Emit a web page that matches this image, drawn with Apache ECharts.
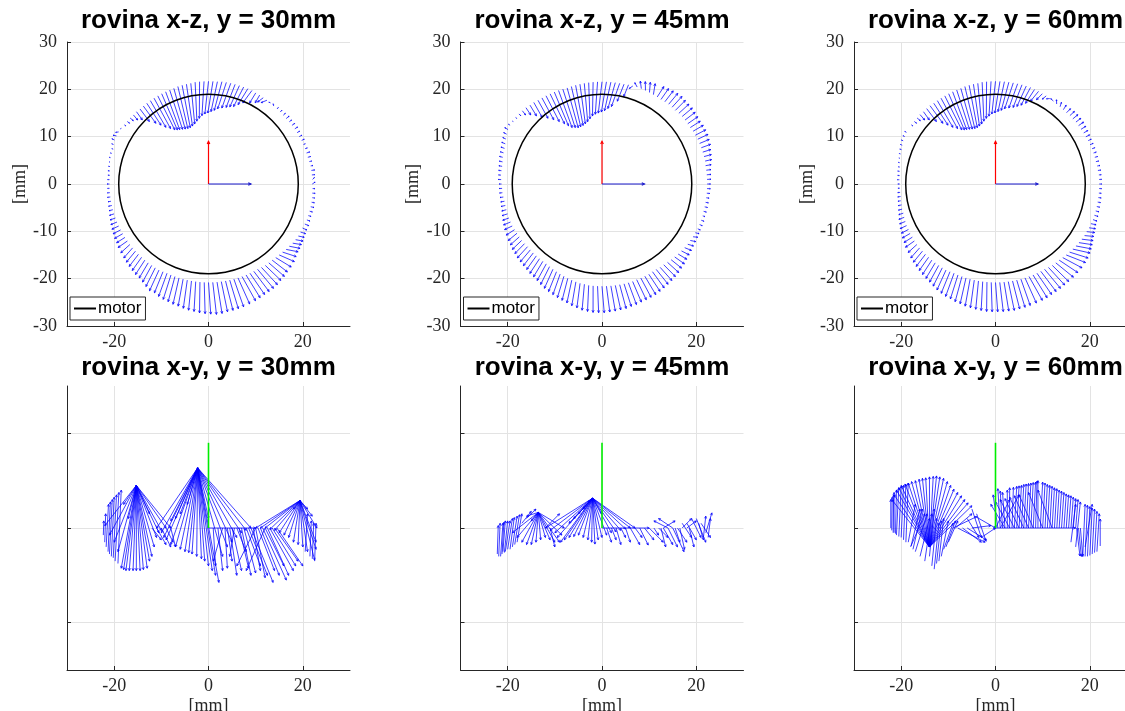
<!DOCTYPE html>
<html><head><meta charset="utf-8">
<script src="https://cdn.jsdelivr.net/npm/echarts@6/dist/echarts.min.js"></script>
<style>html,body{margin:0;padding:0;background:#fff}#c{width:1125px;height:711px}</style>
</head><body><div id="c"></div>
<script>
// ---------- titles / ticks ----------
const titlesTop = ['rovina x-z, y = 30mm', 'rovina x-z, y = 45mm', 'rovina x-z, y = 60mm'];
const titlesBottom = ['rovina x-y, y = 30mm', 'rovina x-y, y = 45mm', 'rovina x-y, y = 60mm'];
const xTickValues = [-20, 0, 20];
const yTickValuesBottom = [-20, 0, 20];
const axisLabelName = '[mm]';
const legendName = 'motor';
const motorRadius = 19;
const refAxisLen = 9;      // red / blue reference arrows (x-z)
const greenAxisLen = 18;   // green reference line (x-y)

// ---------- x-z quiver: tails at angle/tailR, tips at tipA/tipR (deg, mm) ----------
const angles = [0,2.5,5,7.5,10,12.5,15,17.5,20,22.5,25,27.5,
  30,32.5,35,37.5,40,42.5,45,47.5,50,52.5,55,57.5,
  60,62.5,65,67.5,70,72.5,75,77.5,80,82.5,85,87.5,
  90,92.5,95,97.5,100,102.5,105,107.5,110,112.5,115,117.5,
  120,122.5,125,127.5,130,132.5,135,137.5,140,142.5,145,147.5,
  150,152.5,155,157.5,160,162.5,165,167.5,170,172.5,175,177.5,
  180,182.5,185,187.5,190,192.5,195,197.5,200,202.5,205,207.5,
  210,212.5,215,217.5,220,222.5,225,227.5,230,232.5,235,237.5,
  240,242.5,245,247.5,250,252.5,255,257.5,260,262.5,265,267.5,
  270,272.5,275,277.5,280,282.5,285,287.5,290,292.5,295,297.5,
  300,302.5,305,307.5,310,312.5,315,317.5,320,322.5,325,327.5,
  330,332.5,335,337.5,340,342.5,345,347.5,350,352.5,355,357.5];

const tailR_30 = [22.0,22.1,22.0,22.0,22.0,21.9,21.8,21.8,21.8,21.8,21.8,21.7,
  21.7,21.7,21.6,21.6,21.5,21.5,21.5,21.5,21.5,21.6,21.6,21.6,
  21.7,21.7,21.8,21.8,21.8,21.8,21.8,21.8,21.8,21.8,21.7,21.7,
  21.7,21.7,21.7,21.7,21.6,21.6,21.6,21.6,21.5,21.5,21.5,21.5,
  21.5,21.5,21.5,21.5,21.5,21.5,21.6,21.6,21.7,21.7,21.8,21.9,
  22.0,22.0,22.0,21.8,21.5,21.5,21.5,21.4,21.2,21.1,21.0,21.0,
  21.0,21.0,21.0,21.0,21.0,21.0,21.0,21.0,21.0,21.0,21.0,21.0,
  21.0,21.0,21.0,21.0,21.0,21.0,21.0,21.0,21.0,21.0,21.0,21.0,
  21.0,20.9,20.8,20.8,20.8,20.8,20.8,20.8,20.8,20.8,20.8,20.8,
  20.8,20.8,20.8,20.8,20.8,20.8,20.8,20.8,20.8,20.8,20.8,20.8,
  20.8,20.9,21.0,21.0,21.0,21.1,21.2,21.3,21.5,21.6,21.8,21.9,
  22.0,22.0,22.0,22.1,22.2,22.2,22.2,22.2,22.2,22.2,22.1,22.1];
const tipR_30 = [22.6,22.5,22.6,22.7,22.5,22.4,22.4,22.5,22.3,22.2,22.4,22.3,
  22.3,22.4,22.3,22.2,22.3,22.1,22.0,21.9,21.8,21.5,20.5,20.2,
  19.8,19.2,18.6,17.9,17.2,16.9,16.6,16.3,16.0,15.6,15.3,15.0,
  14.8,14.5,14.0,13.5,13.0,12.7,12.5,12.5,12.6,12.8,13.0,13.2,
  13.5,14.2,15.0,16.0,17.0,18.2,19.5,20.2,20.8,21.1,21.4,22.0,
  22.5,22.7,22.6,22.2,21.8,21.8,21.8,21.6,21.5,21.5,21.4,21.4,
  21.5,21.4,21.5,21.6,21.6,21.7,21.8,22.0,22.2,22.4,22.6,22.8,
  23.0,23.1,23.4,23.6,23.8,24.0,24.2,24.4,24.6,24.7,25.0,25.4,
  25.8,25.7,26.0,26.2,26.3,26.5,26.6,26.8,27.0,27.1,27.3,27.4,
  27.5,27.6,27.5,27.3,27.2,27.1,27.0,26.8,26.6,26.4,26.2,26.1,
  26.0,25.8,25.5,25.3,25.0,24.8,24.5,24.1,23.8,23.7,23.5,23.4,
  23.2,23.1,23.0,23.0,22.9,22.8,22.8,22.9,22.8,22.7,22.7,22.6];
const tipA_30 = [1,3.5,5,7.5,10,12.5,15,17.5,20,22.5,25,27.5,
  30,32.5,35,37.5,40,42.5,45,47.5,51,53.5,57,59,
  60,63,67,69.5,72,74.5,77,80,83,85.5,88,90.5,
  93,95.5,98,100.5,103,105.5,108,110.5,113,115.5,118,120,
  122,124.5,127,129,131,133.5,136,138,140,142.5,145,148,
  151,153,155,157.5,160,162.5,165,167.5,170,172.5,175,177.5,
  180,182.5,185,187.5,190,192.5,195,197.5,200,202.5,205,207.5,
  210,212.5,215,218,221,223.5,226,228.5,231,233.5,236,238.5,
  241,243.5,246,248.5,251,253.5,256,258.5,261,263.5,266,268.5,
  271,273.5,276,278.5,281,283.5,286,289,292,294.5,297,299.5,
  302,304.5,307,309.5,312,315,318,320.5,323,325,327,329,
  331,333,335,337.5,340,342.5,345,347.5,350,352.5,355,357.5];

const tailR_45 = [22.3,22.3,22.3,22.3,22.3,22.4,22.4,22.4,22.4,22.4,22.4,22.3,
  22.3,22.2,22.2,22.2,22.2,22.1,22.0,22.0,22.0,21.9,21.8,21.8,
  21.8,21.8,21.8,21.8,21.8,21.7,21.7,21.6,21.6,21.6,21.6,21.6,
  21.6,21.6,21.6,21.6,21.6,21.6,21.6,21.6,21.6,21.7,21.8,21.9,
  22.0,22.1,22.2,22.3,22.5,22.6,22.8,22.9,23.0,23.1,23.2,23.1,
  23.0,22.8,22.5,22.2,22.0,21.9,21.8,21.6,21.5,21.5,21.5,21.4,
  21.3,21.2,21.2,21.1,21.0,21.0,21.0,21.0,21.0,21.0,21.0,20.9,
  20.8,20.8,20.8,20.7,20.6,20.6,20.6,20.6,20.6,20.6,20.6,20.7,
  20.8,20.9,21.0,21.1,21.2,21.3,21.4,21.5,21.5,21.6,21.6,21.6,
  21.6,21.6,21.6,21.6,21.6,21.6,21.6,21.6,21.5,21.5,21.5,21.5,
  21.4,21.4,21.5,21.5,21.6,21.7,21.8,21.9,22.0,22.1,22.2,22.2,
  22.3,22.3,22.4,22.4,22.4,22.4,22.3,22.3,22.3,22.3,22.3,22.3];
const tipR_45 = [23.0,23.1,23.2,23.3,23.5,23.8,24.0,24.2,24.5,24.6,24.8,24.8,
  24.8,24.7,24.8,24.9,25.0,25.0,25.0,25.1,25.0,24.8,24.6,24.4,
  24.0,23.8,23.5,23.2,22.5,21.0,19.0,17.8,16.5,16.0,15.5,15.2,
  15.0,14.8,14.5,14.0,13.5,13.2,13.0,12.9,12.9,13.2,13.5,14.2,
  15.0,16.0,17.0,18.0,19.0,20.0,21.0,21.8,22.5,22.8,23.0,23.5,
  23.8,23.5,23.2,23.0,22.8,22.6,22.5,22.3,22.2,22.1,22.0,22.0,
  21.8,21.8,21.8,21.8,21.8,21.9,22.0,22.2,22.4,22.6,22.8,23.0,
  23.2,23.3,23.5,23.6,23.8,23.9,24.0,24.1,24.3,24.4,24.6,24.9,
  25.2,25.4,25.6,25.8,26.0,26.2,26.5,26.7,27.0,27.1,27.2,27.2,
  27.2,27.1,27.0,26.9,26.8,26.6,26.5,26.3,26.2,26.1,26.0,25.8,
  25.6,25.4,25.2,25.0,24.8,24.5,24.3,24.0,23.8,23.6,23.4,23.3,
  23.2,23.1,23.0,23.0,23.0,22.9,22.9,22.9,22.9,22.9,22.9,23.0];
const tipA_45 = [0,2.5,5,7.5,10,12.5,15,17.5,20,22.5,25,27.5,
  30,32.5,35,37.5,40,42.5,45,47.5,50,52.5,55,57.5,
  62,64.5,67,69.5,72,74,76,79.5,83,85.5,88,90.5,
  93,95.5,98,100.5,103,105.5,108,110.5,113,115.5,118,120,
  122,124.5,127,129.5,132,134,136,138,140,142.5,145,147.5,
  150,152.5,155,157.5,160,162.5,165,167.5,170,172.5,175,177.5,
  180,182.5,185,187.5,190,192.5,195,197.5,200,202.5,205,208,
  211,213.5,216,218.5,221,223.5,226,228.5,231,233.5,236,238.5,
  241,243.5,246,248.5,251,253.5,256,258.5,261,263.5,266,268.5,
  271,273.5,276,278.5,281,283.5,286,288.5,291,293.5,296,298.5,
  301,303.5,306,308.5,311,313.5,316,318.5,321,323.5,326,328.5,
  331,333,335,337.5,340,342.5,345,347.5,350,352.5,355,357.5];

const tailR_60 = [22.0,22.0,22.0,21.9,21.9,21.8,21.8,21.8,21.8,21.7,21.7,21.6,
  21.6,21.5,21.5,21.5,21.4,21.4,21.3,21.3,21.3,21.3,21.4,21.4,
  21.5,21.5,21.6,21.6,21.7,21.7,21.7,21.7,21.7,21.7,21.7,21.7,
  21.7,21.7,21.7,21.7,21.6,21.6,21.6,21.6,21.5,21.5,21.5,21.5,
  21.5,21.5,21.5,21.5,21.6,21.6,21.6,21.7,21.7,21.7,21.8,21.8,
  21.8,21.7,21.6,21.4,21.2,21.1,21.0,20.8,20.6,20.5,20.4,20.4,
  20.3,20.3,20.3,20.3,20.4,20.4,20.5,20.5,20.6,20.7,20.8,20.8,
  20.9,20.9,21.0,21.0,21.0,21.0,21.0,21.0,21.0,21.0,21.0,21.0,
  21.0,20.9,20.8,20.8,20.8,20.8,20.8,20.8,20.8,20.8,20.8,20.8,
  20.8,20.8,20.8,20.8,20.8,20.8,20.8,20.8,20.8,20.8,20.8,20.8,
  20.8,20.9,21.0,21.0,21.0,21.1,21.2,21.3,21.4,21.5,21.6,21.7,
  21.8,21.8,21.9,21.9,22.0,22.0,22.0,22.0,22.0,22.0,22.0,22.0];
const tipR_60 = [22.5,22.5,22.5,22.5,22.5,22.4,22.4,22.4,22.4,22.4,22.4,22.5,
  22.6,22.7,22.8,22.8,22.8,22.7,22.5,22.4,22.2,22.0,21.5,21.0,
  20.5,19.8,19.0,18.2,17.5,17.0,16.6,16.3,16.0,15.6,15.3,15.0,
  14.8,14.4,14.0,13.5,13.0,12.7,12.5,12.5,12.6,12.8,13.0,13.2,
  13.5,14.2,15.0,16.0,17.0,18.2,19.5,20.2,20.8,21.1,21.4,21.8,
  22.2,22.1,22.0,21.8,21.6,21.4,21.2,21.1,20.9,20.9,20.8,20.8,
  20.7,20.7,20.8,20.9,21.0,21.1,21.3,21.5,21.8,22.0,22.3,22.5,
  22.8,23.0,23.3,23.5,23.8,24.0,24.2,24.4,24.6,24.8,25.0,25.3,
  25.6,25.8,26.0,26.1,26.3,26.4,26.6,26.7,26.8,26.9,27.0,27.0,
  27.0,27.0,27.0,27.0,26.9,26.8,26.7,26.6,26.5,26.4,26.2,26.1,
  26.0,25.9,25.8,25.7,25.6,25.5,25.3,25.1,24.8,24.5,24.2,23.9,
  23.6,23.4,23.2,23.0,22.9,22.8,22.7,22.6,22.6,22.6,22.5,22.5];
const tipA_60 = [0,2.5,5,7.5,10,12.5,15,17.5,20,22.5,25,27.5,
  30,32.5,35,37.5,40,42.5,45,48,51,54,57,59,
  61,64,67,69.5,72,74.5,77,80,83,85.5,88,90.5,
  93,95.5,98,100.5,103,105.5,108,110.5,113,115.5,118,120,
  122,124.5,127,129,131,133.5,136,138,140,142.5,145,147.5,
  150,152.5,155,157.5,160,162.5,165,167.5,170,172.5,175,177.5,
  180,182.5,185,187.5,190,192.5,195,197.5,200,202.5,205,207.5,
  210,212.5,215,218,221,223.5,226,228.5,231,233.5,236,238.5,
  241,243.5,246,248.5,251,253.5,256,258.5,261,263.5,266,268.5,
  271,273.5,276,278.5,281,283.5,286,289,292,294.5,297,299.5,
  302,304.5,307,310,313,316,319,321.5,324,326,328,330,
  332,334,336,338,340,342.5,345,347.5,350,352.5,355,357.5];

// ---------- x-y quiver: [x0, y0, x1, y1] in mm ----------
const xy30 = [
  [-22.3,-1.5,-22.2,1.5],[-22,-3,-21.8,3],[-21.7,-4,-21.2,5],[-21.3,-5,-20.8,5.5],[-21,-5.5,-20.4,6],
  [-20.6,-6,-20,6.5],[-20.2,-6.3,-19.5,7],[-19.8,-7,-19,7.5],[-19.2,-7.5,-18.5,8],
  [-15.3,9,-22,0.5],[-15.3,9,-21,-1.5],[-15.3,9,-20,-3],[-15.3,9,-19.2,-5],[-15.3,9,-18.5,-8.5],
  [-15.3,9,-18,-8.8],[-15.3,9,-17.5,-9],[-15.3,9,-16.8,-9],[-15.3,9,-16,-9],[-15.3,9,-15.3,-9],
  [-15.3,9,-14.5,-9],[-15.3,9,-13.8,-8.8],[-15.3,9,-13,-8.5],[-15.3,9,-12.5,-7],[-15.3,9,-12,-6],
  [-15.3,9,-11.5,-4],[-15.3,9,-11,-2],[-15.3,9,-10.5,-1],[-15.3,9,-10,-0.5],[-15.3,9,-9,0],
  [-15.3,9,-8,0],[-15.3,9,-12.5,3],[-15.3,9,-18,5],[-15.3,9,-17,2],
  [-12,0,-10,-2.5],[-11,0,-9,-3.5],[-10,0,-8,-4],[-9,0,-7.5,-3],[-8,0,-7,-4],
  [-2.3,12.7,-11,0],[-2.3,12.7,-10,-1],[-2.3,12.7,-9.5,-2],[-2.3,12.7,-9,-2.5],[-2.3,12.7,-8,-3.5],
  [-2.3,12.7,-7,-4],[-2.3,12.7,-6,-4.5],[-2.3,12.7,-5,-5],[-2.3,12.7,-4.2,-5.2],[-2.3,12.7,-3.5,-5.5],
  [-2.3,12.7,-2.5,-6],[-2.3,12.7,-1.5,-6.5],[-2.3,12.7,-0.8,-7],[-2.3,12.7,0,-8],[-2.3,12.7,0.8,-9],
  [-2.3,12.7,1.5,-10],[-2.3,12.7,2.2,-11.5],[-2.3,12.7,3,-6],[-2.3,12.7,4,-4],[-2.3,12.7,5,-3],
  [-2.3,12.7,6,-2],[-2.3,12.7,7,-1],[-2.3,12.7,8,-0.5],[-2.3,12.7,9,0],[-2.3,12.7,-6,3],
  [-2.3,12.7,-7,2],[-2.3,12.7,-8,1.5],[-2.3,12.7,-4.5,5],[-2.3,12.7,0,2],
  [1,0,1.5,-8],[2,0,3,-9],[3,0,1,-7],[3.5,0,4,-8.5],[4,0,5,-7],[4.5,0,6,-10],[5,0,7,-9],
  [5.5,0,4.5,-6],[6,0,8,-5],[6.5,0,8.5,-8.5],[7,0,9,-10],[7.5,0,10,-9.5],[8,0,11,-8],
  [8.5,0,12.5,-10],[9,0,13.7,-11.5],[9.5,0,11,-9],[10,0,12,-10.5],[10,0,6,-8],[10.5,0,14,-9],
  [11,0,15,-10],[11.5,0,16.5,-11],[12,0,16,-8],[12,0,8,-9],[12.5,0,17,-10],[13,0,18,-9],
  [13.5,0,18.5,-8],[14,0,19,-7],[14.5,0,20,-8],
  [19.4,5.8,10,0],[19.4,5.8,11,0],[19.4,5.8,12,0],[19.4,5.8,13,-0.3],[19.4,5.8,14,-0.5],
  [19.4,5.8,15,-1],[19.4,5.8,16,-1.5],[19.4,5.8,17,-2],[19.4,5.8,18,-3],[19.4,5.8,19,-3.5],
  [19.4,5.8,20,-4],[19.4,5.8,21,-5],[19.4,5.8,22.5,-6.8],[19.4,5.8,22.8,-4.5],[19.4,5.8,22.8,-3],
  [19.4,5.8,23,0],[19.4,5.8,22,2.5],[19.4,5.8,21,4],[19.4,5.8,18,4],
  [21.5,-6,21.8,1.5],[22,-6.5,22.3,1],[22.5,-7,22.8,1],[20.5,-5,21,3],
  [0,0,10,0]
];
const xy45 = [
  [-22.2,-5.5,-22,0.5],[-21.9,-6,-21.6,1],[-21.5,-6,-21,1],[-21.2,-5.5,-20.8,1.2],[-21,-5,-20.5,1.5],
  [-20.7,-5.2,-20,1.5],[-20.5,-5,-19.5,1.5],[-20,-4.5,-19,2],[-19.5,-4.5,-18.6,2.2],[-19,-4,-18,2.5],
  [-18.5,-3.5,-17.5,2.8],[-18,-3,-17,3],
  [-13.5,3.3,-19,-1],[-13.5,3.3,-18,-2],[-13.5,3.3,-17,-3],[-13.5,3.3,-16,-3.5],[-13.5,3.3,-15,-3.5],
  [-13.5,3.3,-14,-3],[-13.5,3.3,-13,-2.5],[-13.5,3.3,-12,-2],[-13.5,3.3,-11,-2.5],[-13.5,3.3,-10,-3],
  [-13.5,3.3,-9,-3],[-13.5,3.3,-8.5,-1.5],[-13.5,3.3,-8,0],[-13.5,3.3,-16,2.5],[-13.5,3.3,-15,1.5],
  [-16,2,-14,4],[-17,1,-15,3.5],[-12,0,-9,3],[-11,0,-10,-4],
  [-2,6.3,-12,0],[-2,6.3,-11,-0.5],[-2,6.3,-10,-1],[-2,6.3,-9.5,-2],[-2,6.3,-8.8,-3],[-2,6.3,-8,-2.5],
  [-2,6.3,-7,-2],[-2,6.3,-6,-1.8],[-2,6.3,-5,-1.5],[-2,6.3,-4,-2],[-2,6.3,-3,-2.5],[-2,6.3,-2.2,-3],
  [-2,6.3,-1.5,-3.4],[-2,6.3,-0.8,-2.5],[-2,6.3,0,-2],[-2,6.3,1,-1.5],[-2,6.3,2,-1],[-2,6.3,3,-0.8],
  [-2,6.3,4,-0.5],[-2,6.3,5,-0.2],[-2,6.3,6,0],[-2,6.3,7,0],[-2,6.3,-5,3],[-2,6.3,-6,2],
  [-2,6.3,-7,1],[-2,6.3,-4,4],[-2,6.3,-3,5.5],[-2,6.3,0,3],
  [1,0,2,-3],[2,0,3,-2.5],[3,0,4,-3.5],[4,0,5,-2],[5,0,6,-3],[6,0,8,-3.5],[7,0,8.5,-2],
  [8,0,9.8,-3.6],[9,0,11,-2.5],[10,0,13,-3],[11,0,12,-1.5],[12,0,14,-2],[12.5,0,13.5,-4],
  [13,0,15,-3.5],[14,0,16,-4],[15,0,17.4,-5],[15.5,0,16.5,-3],[16,0,18,-3],[16.5,0,17.5,-4.5],
  [17,1,19,-2],[18,1,20,-2.5],[18.5,0,19.5,-4],[19,2,21,-2],[20,2,22,-3],[20.5,1,21.5,-2.5],
  [21,1,23,-2],[22,-1,23.3,3.2],[22.5,-2,23,2],[21.5,-2,22,2.5],[17,0,19,2],[15,0,12,2],
  [14,0,11,1.5],[18,0,20,1.5],[13,0,15.5,1.5],
  [0,0,10,0]
];
const xy60 = [
  [-14,-4,-22,6],[-14,-4,-21.5,7],[-14,-4,-21,8],[-14,-4,-20.5,8.5],[-14,-4,-20,9],[-14,-4,-19.2,9.3],
  [-14,-4,-18.5,9.5],[-14,-4,-17.8,9.8],[-14,-4,-17,10],[-14,-4,-16.2,10.3],[-14,-4,-15.5,10.5],
  [-14,-4,-14.8,10.6],[-14,-4,-14,10.8],[-14,-4,-13.2,10.9],[-14,-4,-12.5,11],[-14,-4,-11.8,10.8],
  [-14,-4,-11,10.5],[-14,-4,-10.2,9.8],[-14,-4,-9.5,9],[-14,-4,-8.8,8.2],[-14,-4,-8,7.5],
  [-14,-4,-7.2,6.8],[-14,-4,-6.5,6],[-14,-4,-5.8,5.3],[-14,-4,-5,4.7],
  [-22.2,0,-22.2,6],[-22,-0.5,-21.9,6.5],[-21.7,-1,-21.6,7],[-21.5,-1,-21.5,7.5],[-21.2,-1.2,-21,8],
  [-21,-1.5,-20.5,8.5],[-20.5,-1.8,-20,8.8],[-20,-2,-19.5,9],[-19.5,-2.5,-19,9.2],[-19,-3,-18.5,9.5],
  [-18,-4,-15,3],[-17.5,-4.5,-15.5,4],[-17,-5,-14.5,3],[-16,-6,-14,2],[-15,-7,-13.5,3],[-14,-6,-13,4],
  [-13.5,-8,-12.5,2],[-13,-8.7,-12,1],[-12.5,-7.5,-11.5,1.5],[-12,-7,-11,2],[-11.5,-6,-10,1.5],
  [-11,-4.5,-9,1],[-10.5,-4,-8.5,1.5],[-10,-3,-8,1.5],[-17.9,-3.8,-16,4],[-18.5,-3,-17,5],
  [-9,0,-4,2.4],[-8.5,0,-5,3],[-8,0,-2.2,-3],[-7,0,-3,-3],[-6,0,-2,-2.5],[-5,0,-1,0.5],
  [-4.2,2.4,0,0],[-3,-2,0,0],[-5,4,-3,-2],[-4,3,-2,-2.8],[-6,2,-3.5,-2],
  [0.5,0,-0.5,7],[1,0,0.5,8.3],[1.5,0,1,7.8],[2,0,1.5,7.5],[2.5,0,2.5,8],[3,0,3,8.5],[3.5,0,3.8,8.6],
  [4,0,4.5,8.8],[4.5,0,5,8.9],[5,0,5.5,9],[5.5,0,6,9.2],[6,0,6.5,9.3],[6.5,0,7,9.4],[7,0,7.5,9.5],
  [7.5,0,8,9.6],[8,0,8.5,9.7],[8.5,0,8.8,9.9],[9,0,9,10],[9.5,0,10,9.7],[10,0,10.5,9.5],
  [10.5,0,11,9.2],[11,0,11.5,9],[11.5,0,12,8.8],[12,0,12.5,8.5],[12.5,0,13,8.3],[13,0,13.5,8],
  [13.5,0,14,7.8],[14,0,14.5,7.5],[14.5,0,15,7.2],[15,0,15.5,7],[15.5,0,16,6.8],[16,0,16.5,6.5],
  [16.5,0,17,6.2],[17,0,17.5,6],
  [2,0,-1,5],[3,0,0,5.5],[4,0,1,6],[5,0,2,6.2],[6,0,3,6.5],[7,0,4,6.8],[8,0,5,7],[10,0,7,7.5],
  [12,0,9,8],[0,0,3,6],[1,0,5,7],
  [17.2,0,17.9,-5.9],[17.6,0,18.2,-6],[18,0,18.5,-6],[18.5,-6,19,5],[19,-6,19.5,4.8],[19.5,-6,20,4.5],
  [20,-5.8,20.5,4.2],[20.5,-5.5,21,4],[21,-5.2,21.5,3.5],[21.5,-5,22,3],[22.2,-3.8,22.2,1.9],
  [19,-4,20.5,5],[16,-3,17,5],[17,-4,18,5.5],
  [0,0,17,0]
];

// ---------- helpers ----------
function polarArrows(tailR, tipR, tipA) {
  const d = Math.PI / 180;
  return angles.map((a, i) => [
    tailR[i] * Math.cos(a * d), tailR[i] * Math.sin(a * d),
    tipR[i] * Math.cos(tipA[i] * d), tipR[i] * Math.sin(tipA[i] * d)
  ]);
}
function arrowRender(color, width, headPx) {
  return function (params, api) {
    const p0 = api.coord([api.value(0), api.value(1)]);
    const p1 = api.coord([api.value(2), api.value(3)]);
    const dx = p1[0] - p0[0], dy = p1[1] - p0[1];
    const len = Math.hypot(dx, dy);
    const children = [{ type: 'line', shape: { x1: p0[0], y1: p0[1], x2: p1[0], y2: p1[1] },
      style: { stroke: color, lineWidth: width } }];
    if (len > 0.5 && headPx > 0) {
      const h = Math.min(headPx, len * 0.3);
      const a = Math.atan2(dy, dx);
      children.push({ type: 'polyline', shape: { points: [
        [p1[0] - h * Math.cos(a - 0.45), p1[1] - h * Math.sin(a - 0.45)], [p1[0], p1[1]],
        [p1[0] - h * Math.cos(a + 0.45), p1[1] - h * Math.sin(a + 0.45)]] },
        style: { stroke: color, fill: 'none', lineWidth: width } });
    }
    return { type: 'group', children };
  };
}

const topArrows = [polarArrows(tailR_30, tipR_30, tipA_30), polarArrows(tailR_45, tipR_45, tipA_45), polarArrows(tailR_60, tipR_60, tipA_60)];
const bottomArrows = [xy30, xy45, xy60];

const panelLeft = [67, 460.5, 854];
const panelW = 283, panelH = 284;
const topRowTop = 42, bottomRowTop = 386;
const axisColor = '#262626';
const gridColor = '#e3e3e3';
const serif = '"Liberation Serif", "DejaVu Serif", serif';
const sans = '"Liberation Sans", Arial, sans-serif';

const grid = [], xAxis = [], yAxis = [], series = [], legend = [], graphic = [];
for (let r = 0; r < 2; r++) {
  for (let c = 0; c < 3; c++) {
    const gi = r * 3 + c;
    grid.push({ left: panelLeft[c], top: r === 0 ? topRowTop : bottomRowTop, width: panelW, height: panelH,
      containLabel: false, outerBoundsMode: 'none' });
    xAxis.push({
      type: 'value', gridIndex: gi, min: -30, max: 30,
      axisLine: { show: true, onZero: false, lineStyle: { color: axisColor, width: 1 } },
      axisTick: { show: true, inside: true, length: 4, customValues: xTickValues, lineStyle: { color: axisColor } },
      axisLabel: { customValues: xTickValues, color: axisColor, fontFamily: serif, fontSize: 18, margin: 7 },
      splitLine: { show: true, lineStyle: { color: gridColor, width: 1 } },
      name: r === 1 ? axisLabelName : '', nameLocation: 'middle', nameGap: 27,
      nameTextStyle: { fontFamily: serif, fontSize: 18, color: axisColor }
    });
    if (r === 0) {
      yAxis.push({
        type: 'value', gridIndex: gi, min: -30, max: 30, interval: 10,
        axisLine: { show: true, onZero: false, lineStyle: { color: axisColor, width: 1 } },
        axisTick: { show: true, inside: true, length: 4, lineStyle: { color: axisColor } },
        axisLabel: { color: axisColor, fontFamily: serif, fontSize: 18, margin: 10 },
        splitLine: { show: true, lineStyle: { color: gridColor, width: 1 } },
        name: axisLabelName, nameLocation: 'middle', nameGap: 34, nameRotate: 90,
        nameTextStyle: { fontFamily: serif, fontSize: 18, color: axisColor }
      });
    } else {
      yAxis.push({
        type: 'value', gridIndex: gi, min: -30, max: 30,
        axisLine: { show: true, onZero: false, lineStyle: { color: axisColor, width: 1 } },
        axisTick: { show: true, inside: true, length: 4, customValues: yTickValuesBottom, lineStyle: { color: axisColor } },
        axisLabel: { show: false, customValues: yTickValuesBottom },
        splitLine: { show: true, lineStyle: { color: gridColor, width: 1 } }
      });
    }
    const cx = panelLeft[c] + panelW / 2;
    graphic.push({ type: 'text', x: cx, y: r === 0 ? 21 : 368,
      style: { text: r === 0 ? titlesTop[c] : titlesBottom[c], font: 'bold 26px ' + sans,
        fill: '#000', align: 'center', verticalAlign: 'middle' } });

    // quiver arrows
    series.push({ type: 'custom', name: r === 0 ? 'quiver x-z' : 'quiver x-y', xAxisIndex: gi, yAxisIndex: gi, clip: true,
      dimensions: ['x0', 'y0', 'x1', 'y1'], encode: { x: [0, 2], y: [1, 3] },
      renderItem: arrowRender('#0000ff', 0.75, 2.5), data: r === 0 ? topArrows[c] : bottomArrows[c], z: 2, silent: true });

    if (r === 0) {
      series.push({ type: 'custom', name: legendName, xAxisIndex: gi, yAxisIndex: gi, clip: true,
        itemStyle: { color: '#000' }, encode: { x: 0, y: 1 },
        renderItem: function (params, api) {
          const ctr = api.coord([api.value(0), api.value(1)]);
          const s = api.size([api.value(2), api.value(2)]);
          return { type: 'circle', shape: { cx: ctr[0], cy: ctr[1], r: (s[0] + s[1]) / 2 },
            style: { stroke: '#000', fill: 'none', lineWidth: 1.5 } };
        }, data: [[0, 0, motorRadius]], z: 3, silent: true });
      series.push({ type: 'custom', name: 'z axis', xAxisIndex: gi, yAxisIndex: gi,
        renderItem: arrowRender('#ff0000', 1.2, 3), data: [[0, 0, 0, refAxisLen]],
        encode: { x: [0, 2], y: [1, 3] }, z: 4, silent: true });
      series.push({ type: 'custom', name: 'x axis', xAxisIndex: gi, yAxisIndex: gi,
        renderItem: arrowRender('#1a1acc', 1.2, 3), data: [[0, 0, refAxisLen, 0]],
        encode: { x: [0, 2], y: [1, 3] }, z: 4, silent: true });
      legend.push({ data: [legendName], left: panelLeft[c] + 3, top: topRowTop + panelH - 29,
        orient: 'horizontal', icon: 'rect', itemWidth: 22, itemHeight: 2, itemGap: 0,
        textStyle: { fontFamily: sans, fontSize: 17, color: '#000', padding: [0, 0, 0, -3] },
        borderColor: axisColor, borderWidth: 1, borderRadius: 0, backgroundColor: '#fff',
        padding: [3, 4, 3, 4], selectedMode: false });
    } else {
      series.push({ type: 'custom', name: 'y axis', xAxisIndex: gi, yAxisIndex: gi,
        renderItem: arrowRender('#00ee00', 1.6, 0), data: [[0, 0, 0, greenAxisLen]],
        encode: { x: [0, 2], y: [1, 3] }, z: 4, silent: true });
    }
  }
}

const chart = echarts.init(document.getElementById('c'), null, { renderer: 'canvas' });
chart.setOption({ animation: false, backgroundColor: '#fff', grid, xAxis, yAxis, series, legend, graphic });
</script>
</body></html>
